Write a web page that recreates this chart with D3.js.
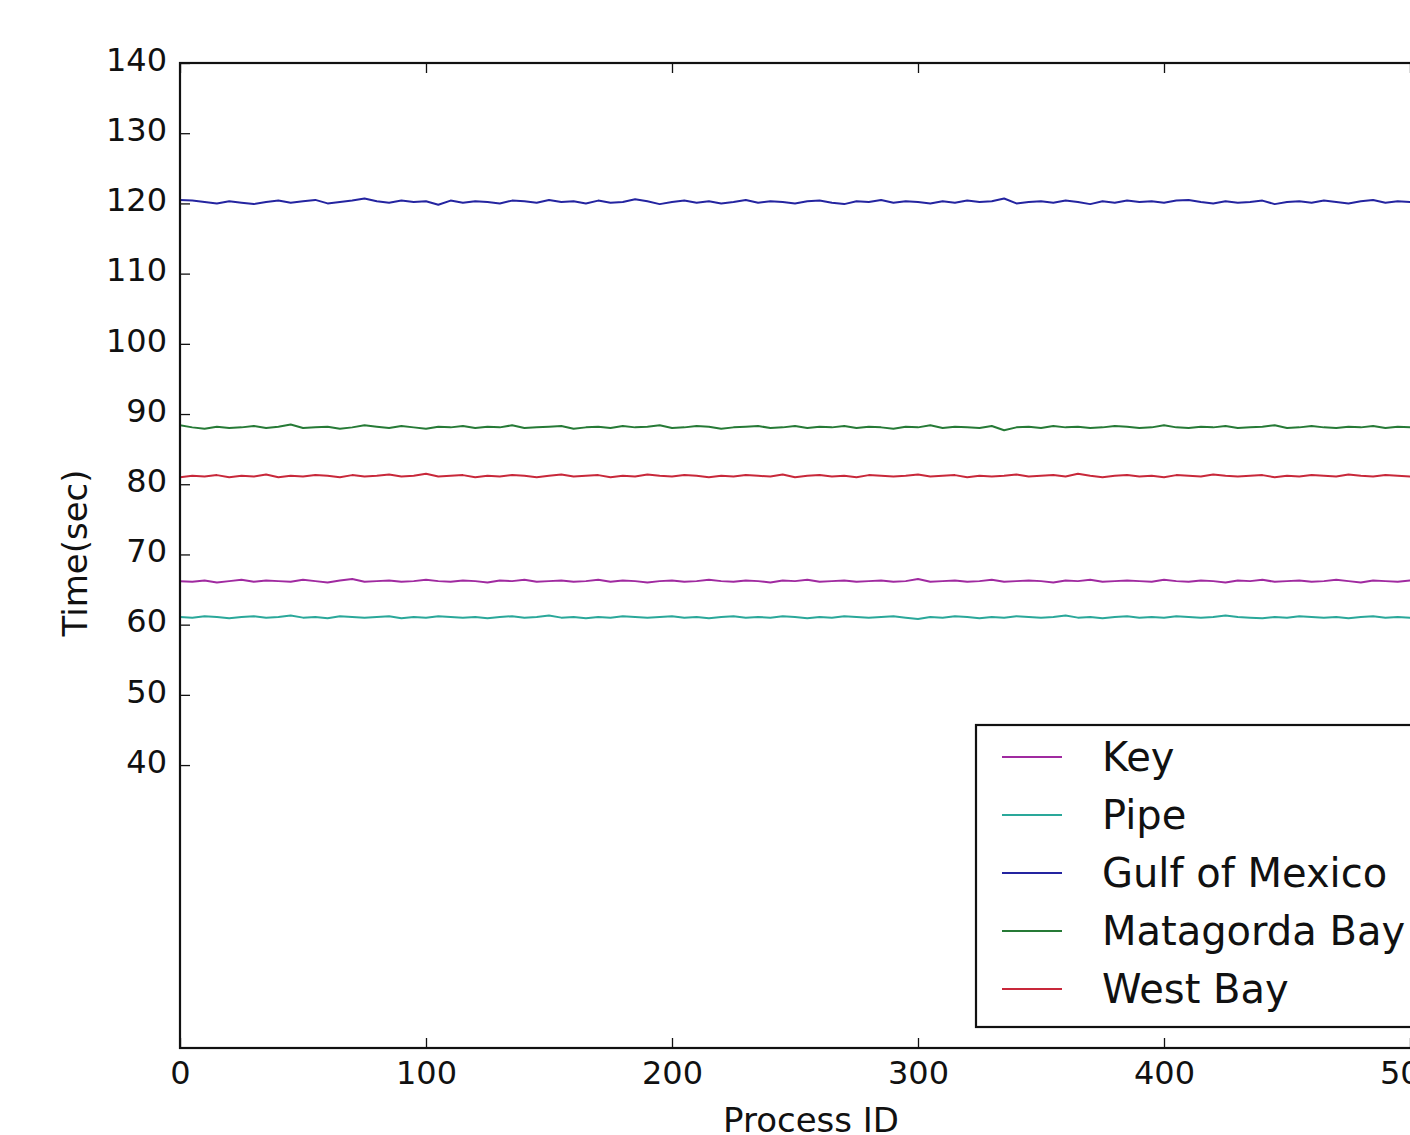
<!DOCTYPE html>
<html>
<head>
<meta charset="utf-8">
<script src="https://cdnjs.cloudflare.com/ajax/libs/d3/7.8.5/d3.min.js"></script>
<style>
  body { margin: 0; background: #fff; }
  text { font-family: "DejaVu Sans", sans-serif; fill: #111; }
</style>
</head>
<body>
<div id="chart"></div>
<script>
// process ids sampled every 5
const processIds = d3.range(0, 515, 5);

const seriesNames = ["Key", "Pipe", "Gulf of Mexico", "Matagorda Bay", "West Bay"];
const seriesColors = ["#a02aa0", "#2aa89a", "#2424a0", "#267a36", "#c8283a"];

const gulfTimes = [
  120.5,120.4,120.2,120.0,120.3,120.1,119.9,120.2,120.4,120.1,
  120.3,120.5,120.0,120.2,120.4,120.7,120.3,120.1,120.4,120.2,
  120.3,119.8,120.4,120.1,120.3,120.2,120.0,120.4,120.3,120.1,
  120.5,120.2,120.3,120.0,120.4,120.1,120.2,120.6,120.3,119.9,
  120.2,120.4,120.1,120.3,120.0,120.2,120.5,120.1,120.3,120.2,
  120.0,120.3,120.4,120.1,119.9,120.3,120.2,120.5,120.1,120.3,
  120.2,120.0,120.3,120.1,120.4,120.2,120.3,120.7,120.0,120.2,
  120.3,120.1,120.4,120.2,119.9,120.3,120.1,120.4,120.2,120.3,
  120.1,120.4,120.5,120.2,120.0,120.3,120.1,120.2,120.4,119.9,
  120.2,120.3,120.1,120.4,120.2,120.0,120.3,120.5,120.1,120.3,
  120.2,120.4,120.1
];
const matagordaTimes = [
  88.4,88.1,87.9,88.2,88.0,88.1,88.3,88.0,88.2,88.5,
  88.0,88.1,88.2,87.9,88.1,88.4,88.2,88.0,88.3,88.1,
  87.9,88.2,88.1,88.3,88.0,88.2,88.1,88.4,88.0,88.1,
  88.2,88.3,87.9,88.1,88.2,88.0,88.3,88.1,88.2,88.4,
  88.0,88.1,88.3,88.2,87.9,88.1,88.2,88.3,88.0,88.1,
  88.3,88.0,88.2,88.1,88.3,88.0,88.2,88.1,87.9,88.2,
  88.1,88.4,88.0,88.2,88.1,88.0,88.3,87.7,88.1,88.2,
  88.0,88.3,88.1,88.2,88.0,88.1,88.3,88.2,88.0,88.1,
  88.4,88.1,88.0,88.2,88.1,88.3,88.0,88.1,88.2,88.4,
  88.0,88.1,88.3,88.1,88.0,88.2,88.1,88.3,88.0,88.2,
  88.1,88.3,88.0
];
const westBayTimes = [
  81.0,81.2,81.1,81.3,81.0,81.2,81.1,81.4,81.0,81.2,
  81.1,81.3,81.2,81.0,81.3,81.1,81.2,81.4,81.1,81.2,
  81.5,81.1,81.2,81.3,81.0,81.2,81.1,81.3,81.2,81.0,
  81.2,81.4,81.1,81.2,81.3,81.0,81.2,81.1,81.4,81.2,
  81.1,81.3,81.2,81.0,81.2,81.1,81.3,81.2,81.1,81.4,
  81.0,81.2,81.3,81.1,81.2,81.0,81.3,81.2,81.1,81.2,
  81.4,81.1,81.2,81.3,81.0,81.2,81.1,81.2,81.4,81.1,
  81.2,81.3,81.1,81.5,81.2,81.0,81.2,81.3,81.1,81.2,
  81.0,81.3,81.2,81.1,81.4,81.2,81.1,81.2,81.3,81.0,
  81.2,81.1,81.3,81.2,81.1,81.4,81.2,81.1,81.3,81.2,
  81.1,81.2,81.3
];
const keyTimes = [
  66.2,66.1,66.3,66.0,66.2,66.4,66.1,66.3,66.2,66.1,
  66.4,66.2,66.0,66.3,66.5,66.1,66.2,66.3,66.1,66.2,
  66.4,66.2,66.1,66.3,66.2,66.0,66.3,66.2,66.4,66.1,
  66.2,66.3,66.1,66.2,66.4,66.1,66.3,66.2,66.0,66.2,
  66.3,66.1,66.2,66.4,66.2,66.1,66.3,66.2,66.0,66.3,
  66.2,66.4,66.1,66.2,66.3,66.1,66.2,66.3,66.1,66.2,
  66.5,66.1,66.2,66.3,66.1,66.2,66.4,66.1,66.2,66.3,
  66.2,66.0,66.3,66.2,66.4,66.1,66.2,66.3,66.2,66.1,
  66.4,66.2,66.1,66.3,66.2,66.0,66.3,66.2,66.4,66.1,
  66.2,66.3,66.1,66.2,66.4,66.2,66.0,66.3,66.2,66.1,
  66.3,66.2,66.1
];
const pipeTimes = [
  61.1,61.0,61.2,61.1,60.9,61.1,61.2,61.0,61.1,61.3,
  61.0,61.1,60.9,61.2,61.1,61.0,61.1,61.2,60.9,61.1,
  61.0,61.2,61.1,61.0,61.1,60.9,61.1,61.2,61.0,61.1,
  61.3,61.0,61.1,60.9,61.1,61.0,61.2,61.1,61.0,61.1,
  61.2,61.0,61.1,60.9,61.1,61.2,61.0,61.1,61.0,61.2,
  61.1,60.9,61.1,61.0,61.2,61.1,61.0,61.1,61.2,61.0,
  60.8,61.1,61.0,61.2,61.1,60.9,61.1,61.0,61.2,61.1,
  61.0,61.1,61.3,61.0,61.1,60.9,61.1,61.2,61.0,61.1,
  61.0,61.2,61.1,61.0,61.1,61.3,61.1,61.0,60.9,61.1,
  61.0,61.2,61.1,61.0,61.1,60.9,61.1,61.2,61.0,61.1,
  61.0,61.2,61.1
];

const yTicks = [40, 50, 60, 70, 80, 90, 100, 110, 120, 130, 140];
const xTicks = [0, 100, 200, 300, 400, 500];

const allSeries = [keyTimes, pipeTimes, gulfTimes, matagordaTimes, westBayTimes];

const w = 1410;
const h = 1135;
const plotLeft = 180, plotTop = 63, plotBottom = 1048;
const pxPerId = 2.46;
const plotRight = plotLeft + pxPerId * 540;   // right spine sits off the picture

const xScale = d3.scaleLinear().domain([0, 540]).range([plotLeft, plotRight]);
const yScale = d3.scaleLinear().domain([-0.3, 140]).range([plotBottom, plotTop]);

const svg = d3.select("#chart").append("svg")
  .attr("width", w)
  .attr("height", h);

svg.append("defs").append("clipPath").attr("id", "plot")
  .append("rect")
  .attr("x", plotLeft).attr("y", plotTop)
  .attr("width", plotRight - plotLeft).attr("height", plotBottom - plotTop);

const line = d3.line()
  .x((d, i) => xScale(processIds[i]))
  .y(d => yScale(d));

svg.append("g").attr("clip-path", "url(#plot)")
  .selectAll("path")
  .data(allSeries)
  .enter().append("path")
  .attr("d", line)
  .attr("fill", "none")
  .attr("stroke", (d, i) => seriesColors[i])
  .attr("stroke-width", 2)
  .attr("stroke-linejoin", "round");

// axes, ticks pointing inward on all sides
const tickLen = 10;
function styleAxis(g) {
  g.select(".domain").remove();
  g.selectAll(".tick line").attr("stroke", "#111").attr("stroke-width", 1.3);
  g.selectAll(".tick text").style("font-size", "32px");
}

svg.append("g")
  .attr("transform", "translate(0," + plotBottom + ")")
  .call(d3.axisBottom(xScale).tickValues(xTicks).tickSizeInner(-tickLen).tickPadding(13))
  .call(styleAxis);

svg.append("g")
  .attr("transform", "translate(0," + plotTop + ")")
  .call(d3.axisTop(xScale).tickValues(xTicks).tickSizeInner(-tickLen).tickFormat(""))
  .call(styleAxis);

svg.append("g")
  .attr("transform", "translate(" + plotLeft + ",0)")
  .call(d3.axisLeft(yScale).tickValues(yTicks).tickSizeInner(-tickLen).tickPadding(13))
  .call(styleAxis)
  .call(g => g.selectAll(".tick text").attr("y", -3));

// frame
svg.append("rect")
  .attr("x", plotLeft).attr("y", plotTop)
  .attr("width", plotRight - plotLeft).attr("height", plotBottom - plotTop)
  .attr("fill", "none")
  .attr("stroke", "#111")
  .attr("stroke-width", 2.2);

svg.append("text")
  .attr("x", 811)
  .attr("y", 1132)
  .attr("text-anchor", "middle")
  .style("font-size", "34px")
  .text("Process ID");

svg.append("text")
  .attr("transform", "translate(87,553) rotate(-90)")
  .attr("text-anchor", "middle")
  .style("font-size", "34px")
  .text("Time(sec)");

// legend
const legend = svg.append("g").attr("id", "legend");
legend.append("rect")
  .attr("x", 976).attr("y", 725)
  .attr("width", 520).attr("height", 302)
  .attr("fill", "#fff")
  .attr("stroke", "#111")
  .attr("stroke-width", 2.2);

const items = legend.selectAll(".legend-item")
  .data(seriesNames)
  .enter().append("g")
  .attr("class", "legend-item")
  .attr("transform", (d, i) => "translate(0," + (757 + i * 58) + ")");

items.append("line")
  .attr("x1", 1002).attr("x2", 1062)
  .attr("stroke", (d, i) => seriesColors[i])
  .attr("stroke-width", 2);

items.append("text")
  .attr("x", 1102)
  .attr("dy", "0.36em")
  .style("font-size", "40px")
  .text(d => d);
</script>
</body>
</html>
